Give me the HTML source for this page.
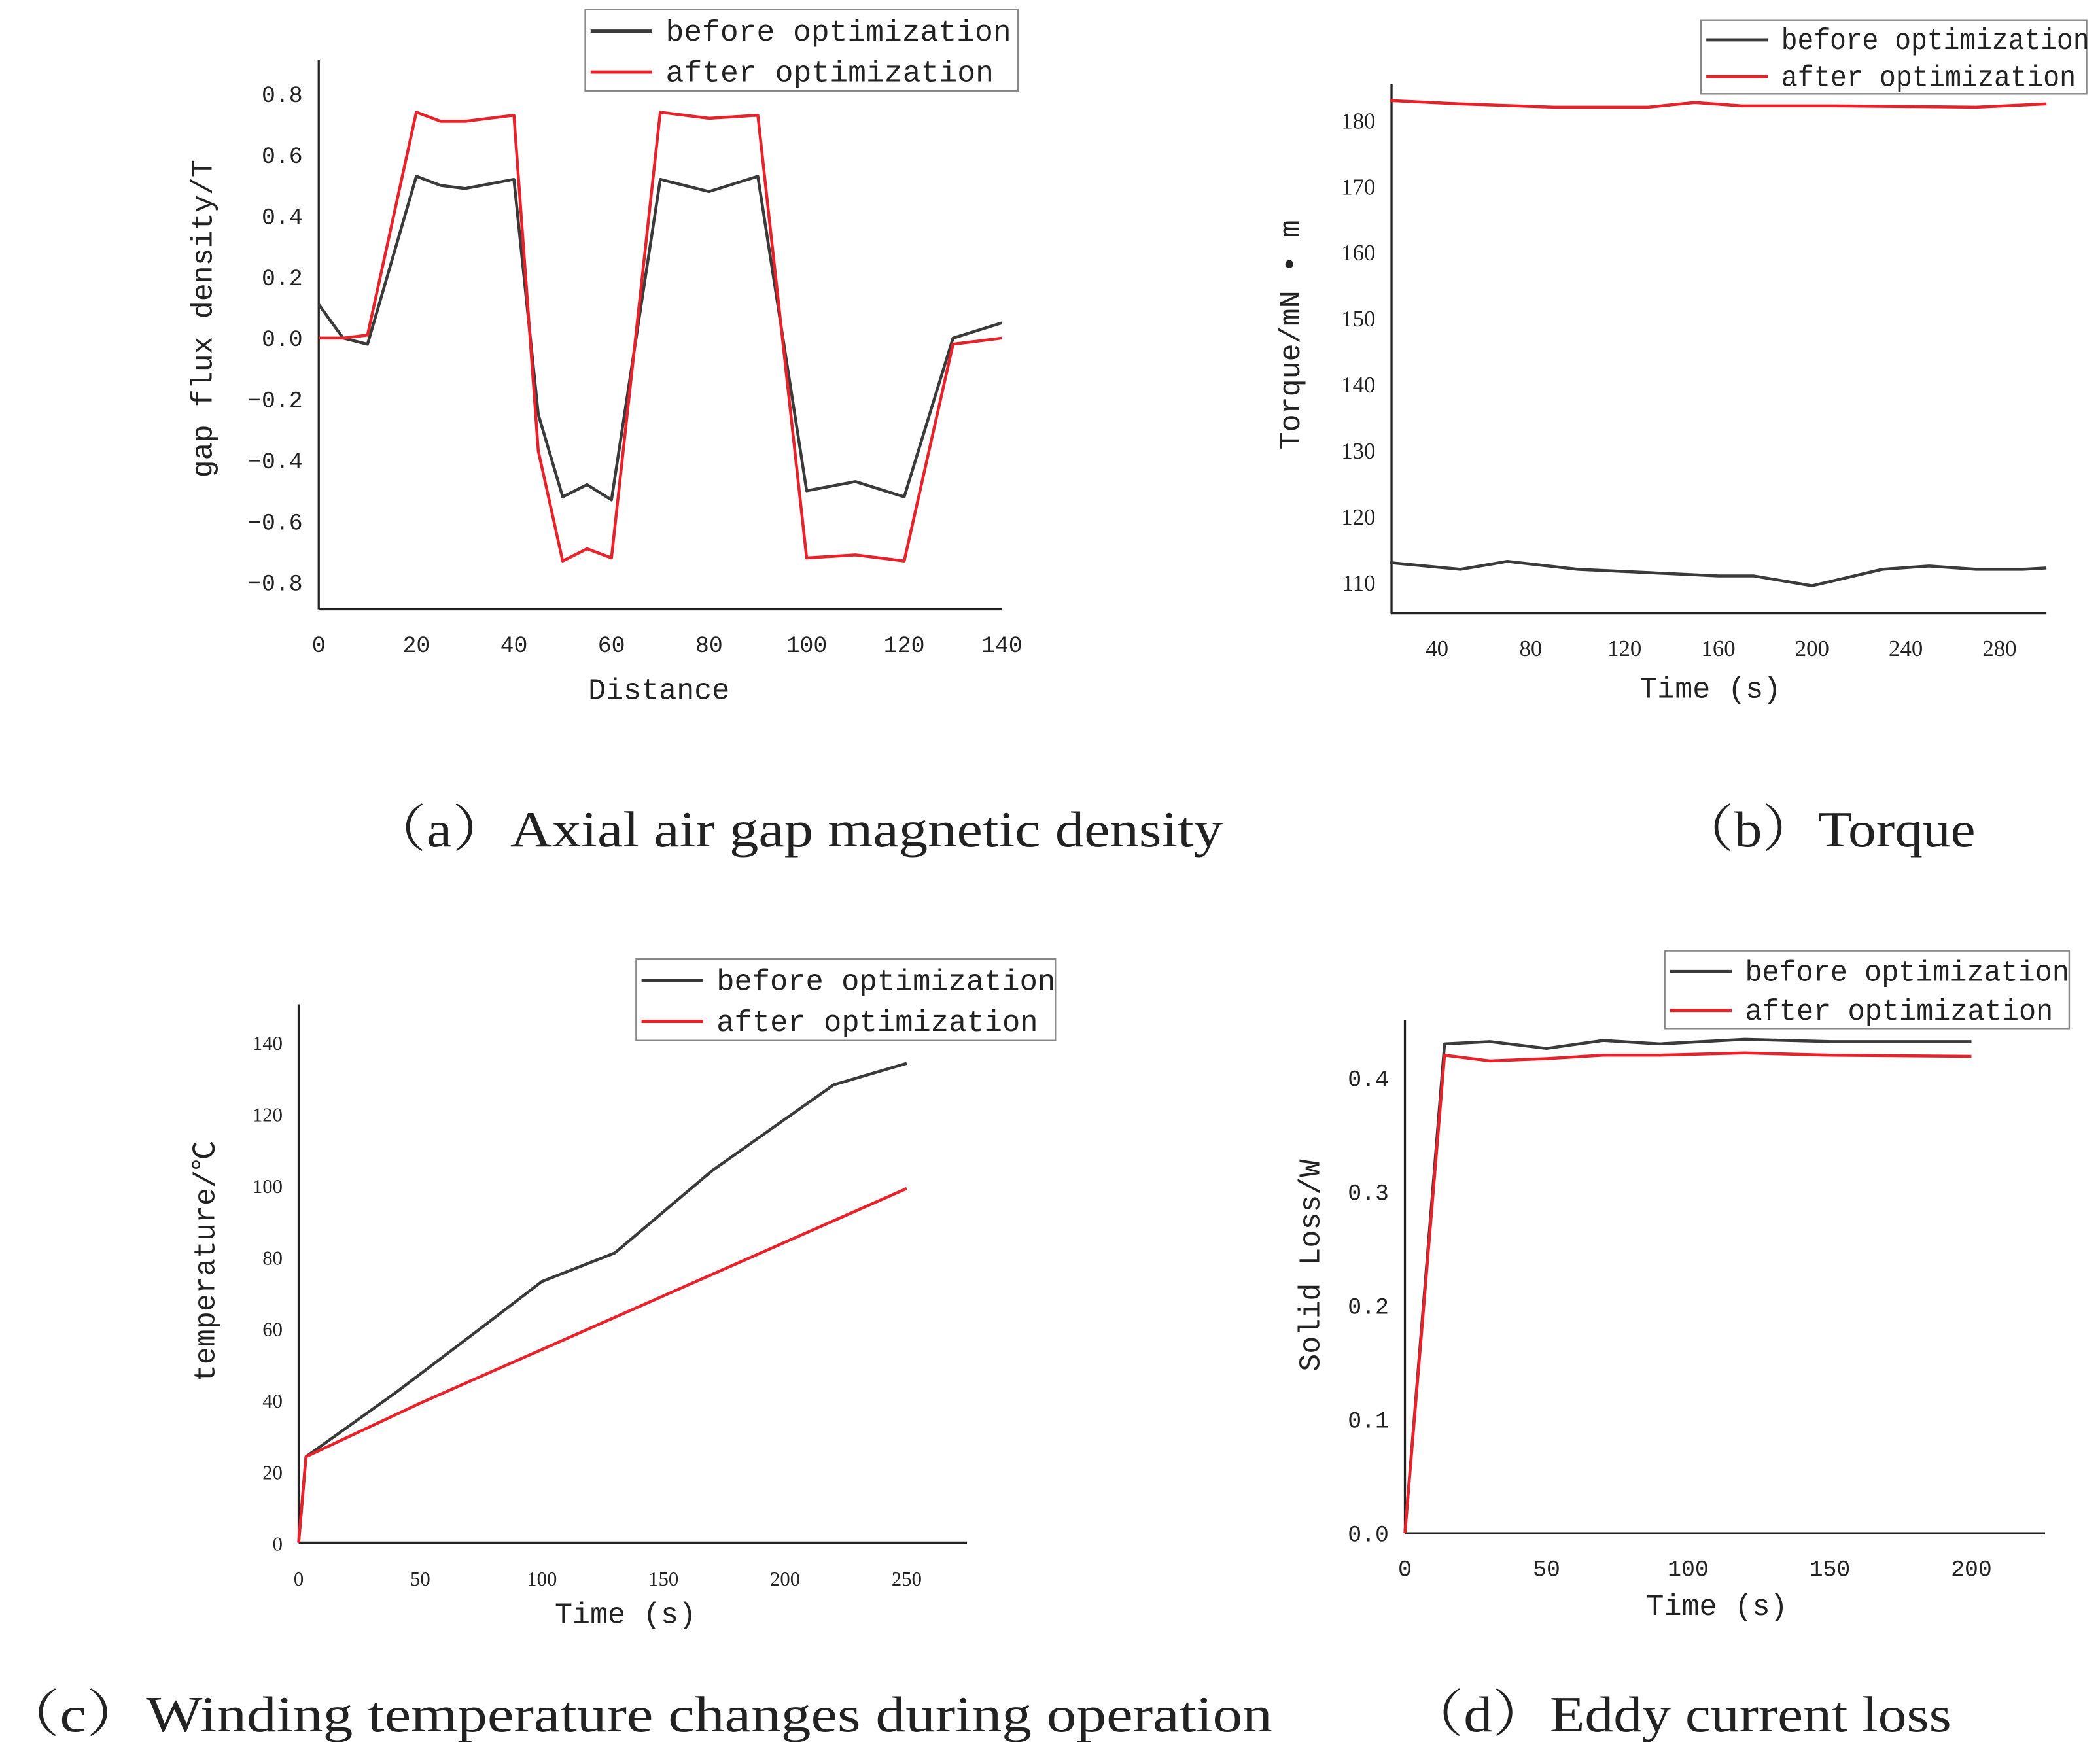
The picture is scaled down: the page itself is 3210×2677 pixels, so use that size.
<!DOCTYPE html>
<html><head><meta charset="utf-8"><style>
html,body{margin:0;padding:0;background:#fff}
svg{display:block}
text{font-family:"Liberation Serif","Noto Serif CJK SC",serif;fill:#222}
.m{font-family:"Liberation Mono","Noto Sans CJK SC",monospace}
</style></head><body>
<svg id="fig" width="3210" height="2677" viewBox="0 0 1568 1307.6" preserveAspectRatio="none" xmlns="http://www.w3.org/2000/svg"></svg>
<script>
// Panel (a) data
const aX=[0,5,10,20,25,30,40,45,50,55,60,70,80,90,100,110,120,130,140];
const aBefore=[0.11,0.0,-0.02,0.53,0.5,0.49,0.52,-0.25,-0.52,-0.48,-0.53,0.52,0.48,0.53,-0.5,-0.47,-0.52,0.0,0.05];
const aAfter=[0,0,0.01,0.74,0.71,0.71,0.73,-0.37,-0.73,-0.69,-0.72,0.74,0.72,0.73,-0.72,-0.71,-0.73,-0.02,0.0];
const aXTicks=[0,20,40,60,80,100,120,140];
const aYTicks=[-0.8,-0.6,-0.4,-0.2,0,0.2,0.4,0.6,0.8];
// Panel (b) data
const bXBefore=[20,50,70,100,130,160,175,200,230,250,270,290,300];
const bBefore=[113,112,113.2,112,111.5,111,111,109.5,112,112.5,112,112,112.2];
const bXAfter=[20,50,90,130,150,170,210,270,300];
const bAfter=[183,182.5,182,182,182.7,182.2,182.2,182,182.5];
const bXTicks=[40,80,120,160,200,240,280];
const bYTicks=[110,120,130,140,150,160,170,180];
// Panel (c) data
const cXBefore=[0,3,40,75,100,130,170,220,250];
const cBefore=[0,24,42,60,73,81,104,128,134];
const cXAfter=[0,3,50,100,150,200,250];
const cAfter=[0,24,39,54,69,84,99];
const cXTicks=[0,50,100,150,200,250];
const cYTicks=[0,20,40,60,80,100,120,140];
// Panel (d) data
const dX=[0,14,30,50,70,90,120,150,200];
const dBefore=[0,0.43,0.432,0.426,0.433,0.43,0.434,0.432,0.432];
const dAfter=[0,0.42,0.415,0.417,0.42,0.42,0.422,0.42,0.419];
const dXTicks=[0,50,100,150,200];
const dYTicks=[0,0.1,0.2,0.3,0.4];

const NS="http://www.w3.org/2000/svg";
const svg=document.getElementById('fig');
function mk(tag,attrs,parent,txt){const e=document.createElementNS(NS,tag);for(const k in attrs)e.setAttribute(k,attrs[k]);if(txt!==undefined)e.textContent=txt;(parent||svg).appendChild(e);return e;}

function panel(id,o){
  const g=mk('g',{});
  
  
  const sx=v=>o.x0+(v-o.xmin)*o.xs, sy=v=>o.y0-(v-o.ymin)*o.ys;
  const ya=mk('line',{x1:o.ax,y1:o.yTop,x2:o.ax,y2:o.ay,stroke:'#222','stroke-width':1.6},g);
  
  const xa=mk('line',{x1:o.ax,y1:o.ay,x2:o.xRight,y2:o.ay,stroke:'#222','stroke-width':1.6},g);
  
  o.xt.forEach(v=>{const t=mk('text',{x:sx(v),y:o.ay+32,'text-anchor':'middle','font-size':o.tfs,class:o.mono?'m':''},g,v);
    });
  o.yt.forEach(v=>{const t=mk('text',{x:o.ax-12,y:sy(v)+6,'text-anchor':'end','font-size':o.tfs,class:o.mono?'m':''},g,o.fmt(v));
    });
  o.series.forEach(s=>{const p=mk('polyline',{points:s.x.map((xv,i)=>sx(xv)+','+sy(s.y[i])).join(' '),fill:'none',stroke:s.c,'stroke-width':2.2,'stroke-linejoin':'round'},g);
    });
  const xt=mk('text',{x:o.xtx,y:o.xty,'text-anchor':'middle','font-size':22,class:'m'},g,o.xl);
  
  const yt=mk('text',{x:0,y:0,'text-anchor':'middle','font-size':22,class:'m',transform:`translate(${o.ytx},${o.yty}) rotate(-90)`},g,o.yl);
  
  const L=o.leg;
  const lg=mk('g',{},g);
  mk('rect',{x:L[0],y:L[1],width:L[2],height:L[3],fill:'#fff',stroke:'#888','stroke-width':1.2},lg);
  const h=L[3]/2;
  [['before optimization','#3a3a3a',L[4]],['after optimization','#e8222b',L[5]]].forEach((e,i)=>{
    const cy=L[1]+h*i+h/2+1;
    mk('line',{x1:L[0]+4,y1:cy,x2:L[0]+50,y2:cy,stroke:e[1],'stroke-width':2.4},lg);
    const t=mk('text',{x:L[0]+60,y:cy+7,'font-size':22,class:'m',textLength:e[2],lengthAdjust:'spacingAndGlyphs'},lg,e[0]);
    
  });
}

panel('gap-flux',{x0:238,xmin:0,xs:510/140,y0:252.5,ymin:0,ys:228,ax:238,ay:455,yTop:45,xRight:748,
  xt:aXTicks,yt:aYTicks,fmt:v=>(v<0?'−':'')+Math.abs(v).toFixed(1),tfs:17,mono:true,
  series:[{x:aX,y:aBefore,c:'#3a3a3a',n:'line-before'},{x:aX,y:aAfter,c:'#e8222b',n:'line-after'}],
  xl:'Distance',xtx:492,xty:522,yl:'gap flux density/T',ytx:158,yty:238,leg:[437,7,323,61,258,245]});
panel('torque',{x0:1073,xmin:40,xs:1.75,y0:435,ymin:110,ys:4.93,ax:1039,ay:458,yTop:63,xRight:1528,
  xt:bXTicks,yt:bYTicks,fmt:v=>v,tfs:17,
  series:[{x:bXBefore,y:bBefore,c:'#3a3a3a',n:'line-before'},{x:bXAfter,y:bAfter,c:'#e8222b',n:'line-after'}],
  xl:'Time (s)',xtx:1277,xty:521,yl:'Torque/mN • m',ytx:970,yty:250,leg:[1270,15,288,55,230,220]});
panel('temperature',{x0:223,xmin:0,xs:1.816,y0:1152,ymin:0,ys:2.671,ax:223,ay:1152,yTop:750,xRight:722,
  xt:cXTicks,yt:cYTicks,fmt:v=>v,tfs:15,
  series:[{x:cXBefore,y:cBefore,c:'#3a3a3a',n:'line-before'},{x:cXAfter,y:cAfter,c:'#e8222b',n:'line-after'}],
  xl:'Time (s)',xtx:467,xty:1212,yl:'temperature/℃',ytx:160,yty:942,leg:[475,716,313,61,253,240]});
panel('eddy-loss',{x0:1049,xmin:0,xs:2.115,y0:1145,ymin:0,ys:850,ax:1049,ay:1145,yTop:762,xRight:1527,
  xt:dXTicks,yt:dYTicks,fmt:v=>v.toFixed(1),tfs:17,mono:true,
  series:[{x:dX,y:dBefore,c:'#3a3a3a',n:'line-before'},{x:dX,y:dAfter,c:'#e8222b',n:'line-after'}],
  xl:'Time (s)',xtx:1282,xty:1206,yl:'Solid Loss/W',ytx:985,yty:945,leg:[1243,710,302,58,242,230]});

[['（a）Axial air gap magnetic density',275,632,'caption-a',638],['（b）Torque',1253,632,'caption-b',222],
 ['（c）Winding temperature changes during operation',0,1293,'caption-c',950],['（d）Eddy current loss',1050,1293,'caption-d',407]]
.forEach(c=>{const t=mk('text',{x:c[1],y:c[2],'font-size':38,textLength:c[4],lengthAdjust:'spacingAndGlyphs'},svg,c[0]);
  });
</script>
</body></html>
